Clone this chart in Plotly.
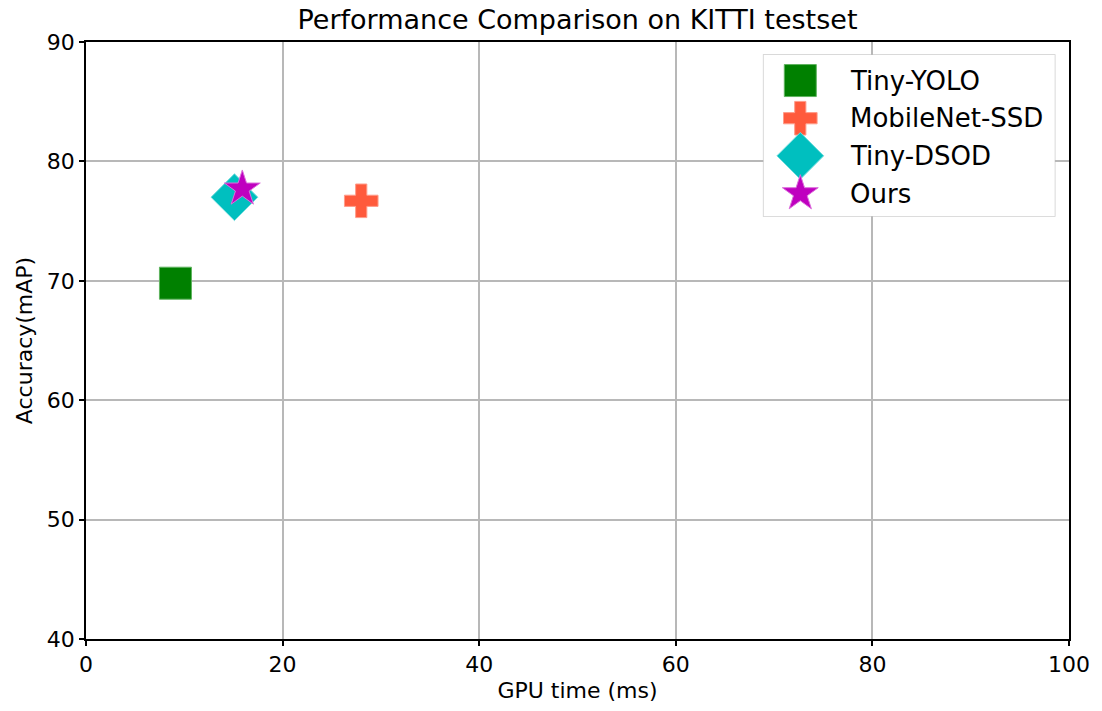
import plotly.graph_objects as go

methods = ["Tiny-YOLO", "MobileNet-SSD", "Tiny-DSOD", "Ours"]
gpu_time = [9.1, 28.0, 15.1, 15.9]
accuracy = [69.8, 76.7, 77.0, 77.7]
colors = ["#008000", "#FF5A3C", "#00BFBF", "#BF00BF"]
edge_colors = ["#5fb35f", "#ff9c8a", "#6fdcdc", "#dc6fdc"]
symbols = ["square", "cross", "diamond", "star"]
sizes = [32, 28, 36, 27]
x_ticks = [0, 20, 40, 60, 80, 100]
y_ticks = [40, 50, 60, 70, 80, 90]

font_family = "DejaVu Sans, sans-serif"
fig = go.Figure()

# data points
for m, x, y, c, ec, s, sz in zip(methods, gpu_time, accuracy, colors, edge_colors, symbols, sizes):
    fig.add_trace(go.Scatter(
        x=[x], y=[y], mode="markers", name=m, showlegend=False,
        marker=dict(symbol=s, color=c, size=sz, line=dict(color=ec, width=1)),
        xaxis="x", yaxis="y",
    ))

# legend drawn in an inset axis so the symbols keep the full marker size
legend_symbol_x = 0.126
legend_text_x = 0.291
for m, c, ec, s, sz in zip(methods, colors, edge_colors, symbols, sizes):
    fig.add_trace(go.Scatter(
        x=[legend_symbol_x], y=[m], mode="markers", showlegend=False, hoverinfo="skip",
        marker=dict(symbol=s, color=c, size=sz, line=dict(color=ec, width=1)),
        xaxis="x2", yaxis="y2",
    ))
    fig.add_annotation(x=legend_text_x, y=m, xref="x2", yref="y2", text=m, showarrow=False,
                       xanchor="left", yanchor="middle",
                       font=dict(family=font_family, size=26, color="black"))

fig.add_shape(type="rect", xref="x2 domain", yref="y2 domain", x0=0, x1=1, y0=0, y1=1,
              fillcolor="rgba(255,255,255,0.8)", line=dict(color="#cccccc", width=1.5),
              layer="below")

fig.update_layout(
    width=1102, height=711,
    margin=dict(l=86, r=31, t=42, b=70),
    paper_bgcolor="white", plot_bgcolor="white",
    title=dict(text="Performance Comparison on KITTI testset", x=0.5, xanchor="center", xref="paper",
               y=1 - 20 / 711, yanchor="middle", yref="container",
               font=dict(family=font_family, size=27, color="black")),
    font=dict(family=font_family, size=22, color="black"),
    showlegend=False,
    xaxis=dict(range=[0, 100], tickvals=x_ticks, showgrid=True, domain=[0, 1],
               gridcolor="#b8b8b8", gridwidth=1.5, zeroline=False, showline=True,
               linecolor="black", linewidth=1.5, mirror=True, ticks="outside",
               ticklen=5, tickwidth=1.5, tickcolor="black", tickfont=dict(size=22),
               title=dict(text="GPU time (ms)", font=dict(size=22), standoff=6)),
    yaxis=dict(range=[40, 90], tickvals=y_ticks, showgrid=True, domain=[0, 1],
               gridcolor="#b8b8b8", gridwidth=1.5, zeroline=False, showline=True,
               linecolor="black", linewidth=1.5, mirror=True, ticks="outside",
               ticklen=5, tickwidth=1.5, tickcolor="black", tickfont=dict(size=22),
               title=dict(text="Accuracy(mAP)", font=dict(size=22), standoff=8)),
    xaxis2=dict(domain=[(765 - 86) / 985, (1056.7 - 86) / 985], range=[0, 1], anchor="y2",
                visible=False, fixedrange=True),
    yaxis2=dict(domain=[(641 - 216.7) / 599, (641 - 55) / 599], type="category",
                categoryorder="array", categoryarray=methods, range=[3.6, -0.68],
                anchor="x2", visible=False, fixedrange=True),
)

fig.write_html("out.html", config={"displayModeBar": False},
               post_script="document.body.style.margin='0';")
